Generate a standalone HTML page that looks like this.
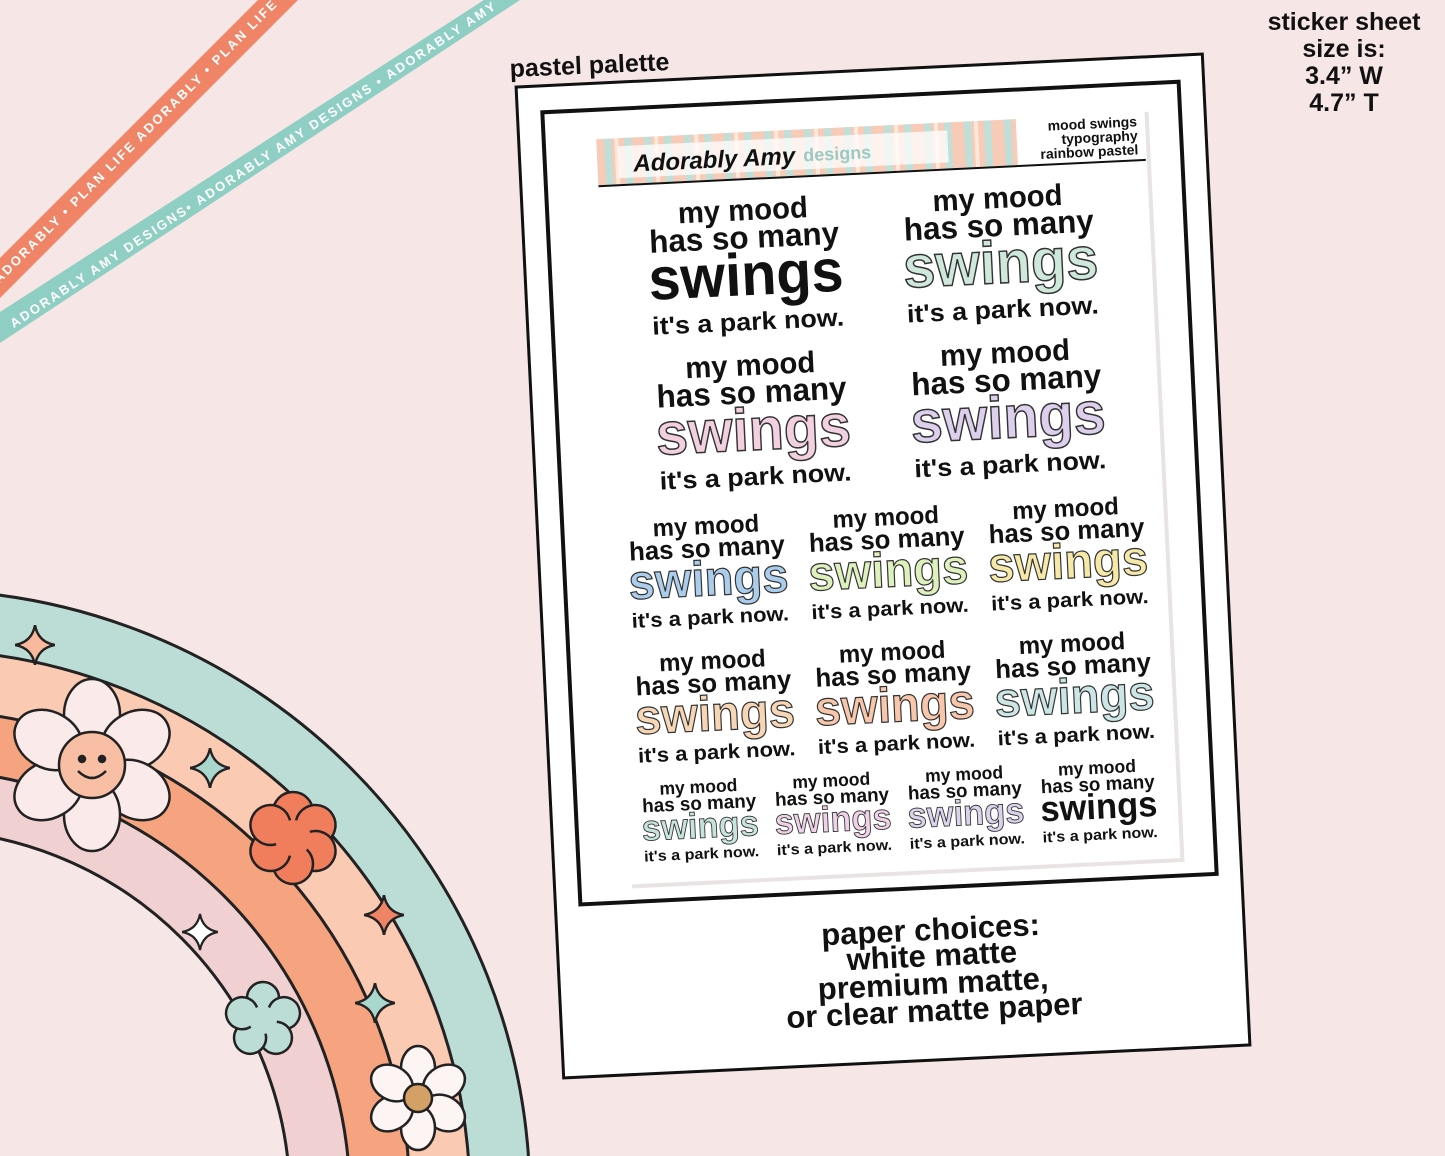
<!DOCTYPE html>
<html><head><meta charset="utf-8"><style>
html,body{margin:0;padding:0;background:#f6e6e6;width:1445px;height:1156px;overflow:hidden;}
svg{display:block;}
text{font-family:"Liberation Sans",sans-serif;font-weight:bold;}
</style></head><body>
<svg width="1445" height="1156" viewBox="0 0 1445 1156" xmlns="http://www.w3.org/2000/svg">
<defs>
<symbol id="star4" viewBox="-10 -10 20 20"><path d="M0,-10 Q1.5,-1.5 10,0 Q1.5,1.5 0,10 Q-1.5,1.5 -10,0 Q-1.5,-1.5 0,-10Z" stroke="#222" stroke-width="1.2"/></symbol>
</defs>
<rect width="1445" height="1156" fill="#f6e6e6"/>

<polygon points="0,258 0,298 298,0 258,0" fill="#f08466"/>
<text x="0" y="0" transform="translate(140,143) rotate(-45)" text-anchor="middle" fill="#fff" font-size="13" letter-spacing="2.2">PLAN LIFE ADORABLY • PLAN LIFE ADORABLY • PLAN LIFE ADORABLY</text>
<polygon points="0,312 0,343 520,0 484,0" fill="#8fcfc3"/>
<text x="0" y="0" transform="translate(256,168) rotate(-33.5)" text-anchor="middle" fill="#fff" font-size="13" letter-spacing="2.2">ADORABLY AMY DESIGNS• ADORABLY AMY DESIGNS • ADORABLY AMY</text>

<g stroke="#222" stroke-width="3">
<circle cx="-80" cy="1200" r="610" fill="#bcdcd6"/>
<circle cx="-80" cy="1200" r="550" fill="#fbcab3"/>
<circle cx="-80" cy="1200" r="490" fill="#f5a47f"/>
<circle cx="-80" cy="1200" r="430" fill="#f0d0d0"/>
<circle cx="-80" cy="1200" r="370" fill="#f6e6e6"/>
</g>
<use href="#star4" x="15" y="625" width="40" height="40" fill="#f8b99c"/>
<use href="#star4" x="190" y="748" width="40" height="40" fill="#a9d6cd"/>
<use href="#star4" x="182" y="912" width="36" height="40" fill="#fff"/>
<use href="#star4" x="364" y="895" width="40" height="40" fill="#f08466"/>
<use href="#star4" x="355" y="983" width="40" height="40" fill="#a9d6cd"/>
<g transform="translate(92,765)" stroke="#222" stroke-width="2.5" fill="#fbeaea">
<ellipse cx="0" cy="-50" rx="28" ry="36"/>
<ellipse cx="0" cy="-50" rx="28" ry="36" transform="rotate(60)"/>
<ellipse cx="0" cy="-50" rx="28" ry="36" transform="rotate(120)"/>
<ellipse cx="0" cy="-50" rx="28" ry="36" transform="rotate(180)"/>
<ellipse cx="0" cy="-50" rx="28" ry="36" transform="rotate(240)"/>
<ellipse cx="0" cy="-50" rx="28" ry="36" transform="rotate(300)"/>
<circle r="33" fill="#f8bfa5"/>
<circle cx="-10" cy="-6" r="3" fill="#222"/><circle cx="10" cy="-6" r="3" fill="#222"/>
<path d="M-14,6 Q0,20 14,6" fill="none"/>
</g>
<g transform="translate(293,838)" stroke="#222" stroke-width="2.5" fill="#f07d5c">
<circle cx="0" cy="-26" r="20"/><circle cx="0" cy="-26" r="20" transform="rotate(60)"/><circle cx="0" cy="-26" r="20" transform="rotate(120)"/><circle cx="0" cy="-26" r="20" transform="rotate(180)"/><circle cx="0" cy="-26" r="20" transform="rotate(240)"/><circle cx="0" cy="-26" r="20" transform="rotate(300)"/>
<circle r="18" stroke="none"/>
</g>
<g transform="translate(263,1020)" stroke="#222" stroke-width="2.5" fill="#bcdcd6">
<circle cx="0" cy="-22" r="16"/><circle cx="0" cy="-22" r="16" transform="rotate(72)"/><circle cx="0" cy="-22" r="16" transform="rotate(144)"/><circle cx="0" cy="-22" r="16" transform="rotate(216)"/><circle cx="0" cy="-22" r="16" transform="rotate(288)"/>
<circle r="14" stroke="none"/>
</g>
<g transform="translate(418,1098)" stroke="#222" stroke-width="2.5" fill="#fdf4f4">
<ellipse cx="0" cy="-30" rx="17" ry="22"/><ellipse cx="0" cy="-30" rx="17" ry="22" transform="rotate(60)"/><ellipse cx="0" cy="-30" rx="17" ry="22" transform="rotate(120)"/><ellipse cx="0" cy="-30" rx="17" ry="22" transform="rotate(180)"/><ellipse cx="0" cy="-30" rx="17" ry="22" transform="rotate(240)"/><ellipse cx="0" cy="-30" rx="17" ry="22" transform="rotate(300)"/>
<circle r="14" fill="#d3a165"/>
</g>

<g font-size="25" fill="#111" text-anchor="middle">
<text x="1344" y="30">sticker sheet</text>
<text x="1344" y="57">size is:</text>
<text x="1344" y="84">3.4” W</text>
<text x="1344" y="111">4.7” T</text>
</g>
<text x="0" y="0" transform="translate(510,77) rotate(-2.5)" font-size="25" fill="#111">pastel palette</text>

<g transform="translate(883,566) rotate(-2.75)">
<rect x="-343.5" y="-496" width="687" height="992" fill="#fff" stroke="#111" stroke-width="3"/>
<rect x="-318.5" y="-469.5" width="637" height="793" fill="#fff" stroke="#111" stroke-width="4"/>
<g font-size="31" fill="#111" text-anchor="middle">
<text x="30" y="376">paper choices:</text>
<text x="30" y="402">white matte</text>
<text x="30" y="430">premium matte,</text>
<text x="30" y="457">or clear matte paper</text>
</g>
<rect x="-266" y="-441" width="553" height="751" fill="#e9e4e4"/>
<rect x="-270" y="-445" width="553" height="751" fill="#fff"/>
<g>
<rect x="-266" y="-440" width="420" height="46" fill="#f6cbb8"/>
<g fill="#bfe0d8">
<rect x="-258" y="-440" width="7" height="46"/><rect x="-238" y="-440" width="7" height="46"/><rect x="-218" y="-440" width="7" height="46"/><rect x="-198" y="-440" width="7" height="46"/><rect x="-178" y="-440" width="7" height="46"/><rect x="-158" y="-440" width="7" height="46"/><rect x="-138" y="-440" width="7" height="46"/><rect x="-118" y="-440" width="7" height="46"/><rect x="-98" y="-440" width="7" height="46"/><rect x="-78" y="-440" width="7" height="46"/><rect x="-58" y="-440" width="7" height="46"/><rect x="-38" y="-440" width="7" height="46"/><rect x="-18" y="-440" width="7" height="46"/><rect x="2" y="-440" width="7" height="46"/><rect x="22" y="-440" width="7" height="46"/><rect x="42" y="-440" width="7" height="46"/><rect x="62" y="-440" width="7" height="46"/><rect x="82" y="-440" width="7" height="46"/><rect x="102" y="-440" width="7" height="46"/><rect x="122" y="-440" width="7" height="46"/><rect x="142" y="-440" width="7" height="46"/>
</g>
<g fill="#fbe8d9">
<rect x="-248" y="-440" width="4" height="46"/><rect x="-208" y="-440" width="4" height="46"/><rect x="-168" y="-440" width="4" height="46"/><rect x="-128" y="-440" width="4" height="46"/><rect x="-88" y="-440" width="4" height="46"/><rect x="-48" y="-440" width="4" height="46"/><rect x="-8" y="-440" width="4" height="46"/><rect x="32" y="-440" width="4" height="46"/><rect x="72" y="-440" width="4" height="46"/><rect x="112" y="-440" width="4" height="46"/>
</g>
<rect x="-245" y="-432" width="330" height="32" fill="#fff" opacity="0.75"/>
<text x="-230" y="-406" font-size="24" font-style="italic" fill="#111" font-family="Liberation Serif, serif">Adorably Amy</text>
<text x="-60" y="-408" font-size="18" fill="#9fc9c0">designs</text>
<text x="275" y="-427" font-size="14" text-anchor="end" fill="#111">mood swings</text>
<text x="275" y="-413" font-size="14" text-anchor="end" fill="#111">typography</text>
<text x="275" y="-399" font-size="14" text-anchor="end" fill="#111">rainbow pastel</text>
<line x1="-266" y1="-393" x2="282" y2="-393" stroke="#111" stroke-width="2"/>
</g>

<g transform="translate(-123,-310)" fill="#111" text-anchor="middle">
<text y="-42" font-size="30" textLength="130" lengthAdjust="spacingAndGlyphs">my mood</text>
<text y="-14" font-size="32" textLength="190" lengthAdjust="spacingAndGlyphs">has so many</text>
<text y="33" font-size="60" textLength="195" lengthAdjust="spacingAndGlyphs">swings</text>
<text y="68" font-size="25" textLength="192" lengthAdjust="spacingAndGlyphs">it's a park now.</text>
</g>
<g transform="translate(132,-310)" fill="#111" text-anchor="middle">
<text y="-42" font-size="30" textLength="130" lengthAdjust="spacingAndGlyphs">my mood</text>
<text y="-14" font-size="32" textLength="190" lengthAdjust="spacingAndGlyphs">has so many</text>
<text y="33" font-size="60" textLength="195" lengthAdjust="spacingAndGlyphs" fill="#cfe8dc" stroke="#333" stroke-width="1.5">swings</text>
<text y="68" font-size="25" textLength="192" lengthAdjust="spacingAndGlyphs">it's a park now.</text>
</g>
<g transform="translate(-123,-155)" fill="#111" text-anchor="middle">
<text y="-42" font-size="30" textLength="130" lengthAdjust="spacingAndGlyphs">my mood</text>
<text y="-14" font-size="32" textLength="190" lengthAdjust="spacingAndGlyphs">has so many</text>
<text y="33" font-size="60" textLength="195" lengthAdjust="spacingAndGlyphs" fill="#f2d0e0" stroke="#333" stroke-width="1.5">swings</text>
<text y="68" font-size="25" textLength="192" lengthAdjust="spacingAndGlyphs">it's a park now.</text>
</g>
<g transform="translate(132,-155)" fill="#111" text-anchor="middle">
<text y="-42" font-size="30" textLength="130" lengthAdjust="spacingAndGlyphs">my mood</text>
<text y="-14" font-size="32" textLength="190" lengthAdjust="spacingAndGlyphs">has so many</text>
<text y="33" font-size="60" textLength="195" lengthAdjust="spacingAndGlyphs" fill="#dcd0ec" stroke="#333" stroke-width="1.5">swings</text>
<text y="68" font-size="25" textLength="192" lengthAdjust="spacingAndGlyphs">it's a park now.</text>
</g>

<g transform="translate(-175,-6) scale(0.82)" fill="#111" text-anchor="middle">
<text y="-42" font-size="30" textLength="130" lengthAdjust="spacingAndGlyphs">my mood</text>
<text y="-14" font-size="32" textLength="190" lengthAdjust="spacingAndGlyphs">has so many</text>
<text y="33" font-size="60" textLength="195" lengthAdjust="spacingAndGlyphs" fill="#aacdec" stroke="#333" stroke-width="1.5">swings</text>
<text y="68" font-size="25" textLength="192" lengthAdjust="spacingAndGlyphs">it's a park now.</text>
</g>
<g transform="translate(5,-6) scale(0.82)" fill="#111" text-anchor="middle">
<text y="-42" font-size="30" textLength="130" lengthAdjust="spacingAndGlyphs">my mood</text>
<text y="-14" font-size="32" textLength="190" lengthAdjust="spacingAndGlyphs">has so many</text>
<text y="33" font-size="60" textLength="195" lengthAdjust="spacingAndGlyphs" fill="#def0bc" stroke="#333" stroke-width="1.5">swings</text>
<text y="68" font-size="25" textLength="192" lengthAdjust="spacingAndGlyphs">it's a park now.</text>
</g>
<g transform="translate(185,-6) scale(0.82)" fill="#111" text-anchor="middle">
<text y="-42" font-size="30" textLength="130" lengthAdjust="spacingAndGlyphs">my mood</text>
<text y="-14" font-size="32" textLength="190" lengthAdjust="spacingAndGlyphs">has so many</text>
<text y="33" font-size="60" textLength="195" lengthAdjust="spacingAndGlyphs" fill="#f6e8a6" stroke="#333" stroke-width="1.5">swings</text>
<text y="68" font-size="25" textLength="192" lengthAdjust="spacingAndGlyphs">it's a park now.</text>
</g>
<g transform="translate(-175,129) scale(0.82)" fill="#111" text-anchor="middle">
<text y="-42" font-size="30" textLength="130" lengthAdjust="spacingAndGlyphs">my mood</text>
<text y="-14" font-size="32" textLength="190" lengthAdjust="spacingAndGlyphs">has so many</text>
<text y="33" font-size="60" textLength="195" lengthAdjust="spacingAndGlyphs" fill="#f6d6b4" stroke="#333" stroke-width="1.5">swings</text>
<text y="68" font-size="25" textLength="192" lengthAdjust="spacingAndGlyphs">it's a park now.</text>
</g>
<g transform="translate(5,129) scale(0.82)" fill="#111" text-anchor="middle">
<text y="-42" font-size="30" textLength="130" lengthAdjust="spacingAndGlyphs">my mood</text>
<text y="-14" font-size="32" textLength="190" lengthAdjust="spacingAndGlyphs">has so many</text>
<text y="33" font-size="60" textLength="195" lengthAdjust="spacingAndGlyphs" fill="#f8c6aa" stroke="#333" stroke-width="1.5">swings</text>
<text y="68" font-size="25" textLength="192" lengthAdjust="spacingAndGlyphs">it's a park now.</text>
</g>
<g transform="translate(185,129) scale(0.82)" fill="#111" text-anchor="middle">
<text y="-42" font-size="30" textLength="130" lengthAdjust="spacingAndGlyphs">my mood</text>
<text y="-14" font-size="32" textLength="190" lengthAdjust="spacingAndGlyphs">has so many</text>
<text y="33" font-size="60" textLength="195" lengthAdjust="spacingAndGlyphs" fill="#cbe6e4" stroke="#333" stroke-width="1.5">swings</text>
<text y="68" font-size="25" textLength="192" lengthAdjust="spacingAndGlyphs">it's a park now.</text>
</g>
<g transform="translate(-195,243) scale(0.6)" fill="#111" text-anchor="middle">
<text y="-42" font-size="30" textLength="130" lengthAdjust="spacingAndGlyphs">my mood</text>
<text y="-14" font-size="32" textLength="190" lengthAdjust="spacingAndGlyphs">has so many</text>
<text y="33" font-size="60" textLength="195" lengthAdjust="spacingAndGlyphs" fill="#c6e4dd" stroke="#333" stroke-width="1.5">swings</text>
<text y="68" font-size="25" textLength="192" lengthAdjust="spacingAndGlyphs">it's a park now.</text>
</g>
<g transform="translate(-62,243) scale(0.6)" fill="#111" text-anchor="middle">
<text y="-42" font-size="30" textLength="130" lengthAdjust="spacingAndGlyphs">my mood</text>
<text y="-14" font-size="32" textLength="190" lengthAdjust="spacingAndGlyphs">has so many</text>
<text y="33" font-size="60" textLength="195" lengthAdjust="spacingAndGlyphs" fill="#f0d2e8" stroke="#333" stroke-width="1.5">swings</text>
<text y="68" font-size="25" textLength="192" lengthAdjust="spacingAndGlyphs">it's a park now.</text>
</g>
<g transform="translate(71,243) scale(0.6)" fill="#111" text-anchor="middle">
<text y="-42" font-size="30" textLength="130" lengthAdjust="spacingAndGlyphs">my mood</text>
<text y="-14" font-size="32" textLength="190" lengthAdjust="spacingAndGlyphs">has so many</text>
<text y="33" font-size="60" textLength="195" lengthAdjust="spacingAndGlyphs" fill="#dbd2ec" stroke="#333" stroke-width="1.5">swings</text>
<text y="68" font-size="25" textLength="192" lengthAdjust="spacingAndGlyphs">it's a park now.</text>
</g>
<g transform="translate(204,243) scale(0.6)" fill="#111" text-anchor="middle">
<text y="-42" font-size="30" textLength="130" lengthAdjust="spacingAndGlyphs">my mood</text>
<text y="-14" font-size="32" textLength="190" lengthAdjust="spacingAndGlyphs">has so many</text>
<text y="33" font-size="60" textLength="195" lengthAdjust="spacingAndGlyphs">swings</text>
<text y="68" font-size="25" textLength="192" lengthAdjust="spacingAndGlyphs">it's a park now.</text>
</g>
</g>
</svg>
</body></html>
